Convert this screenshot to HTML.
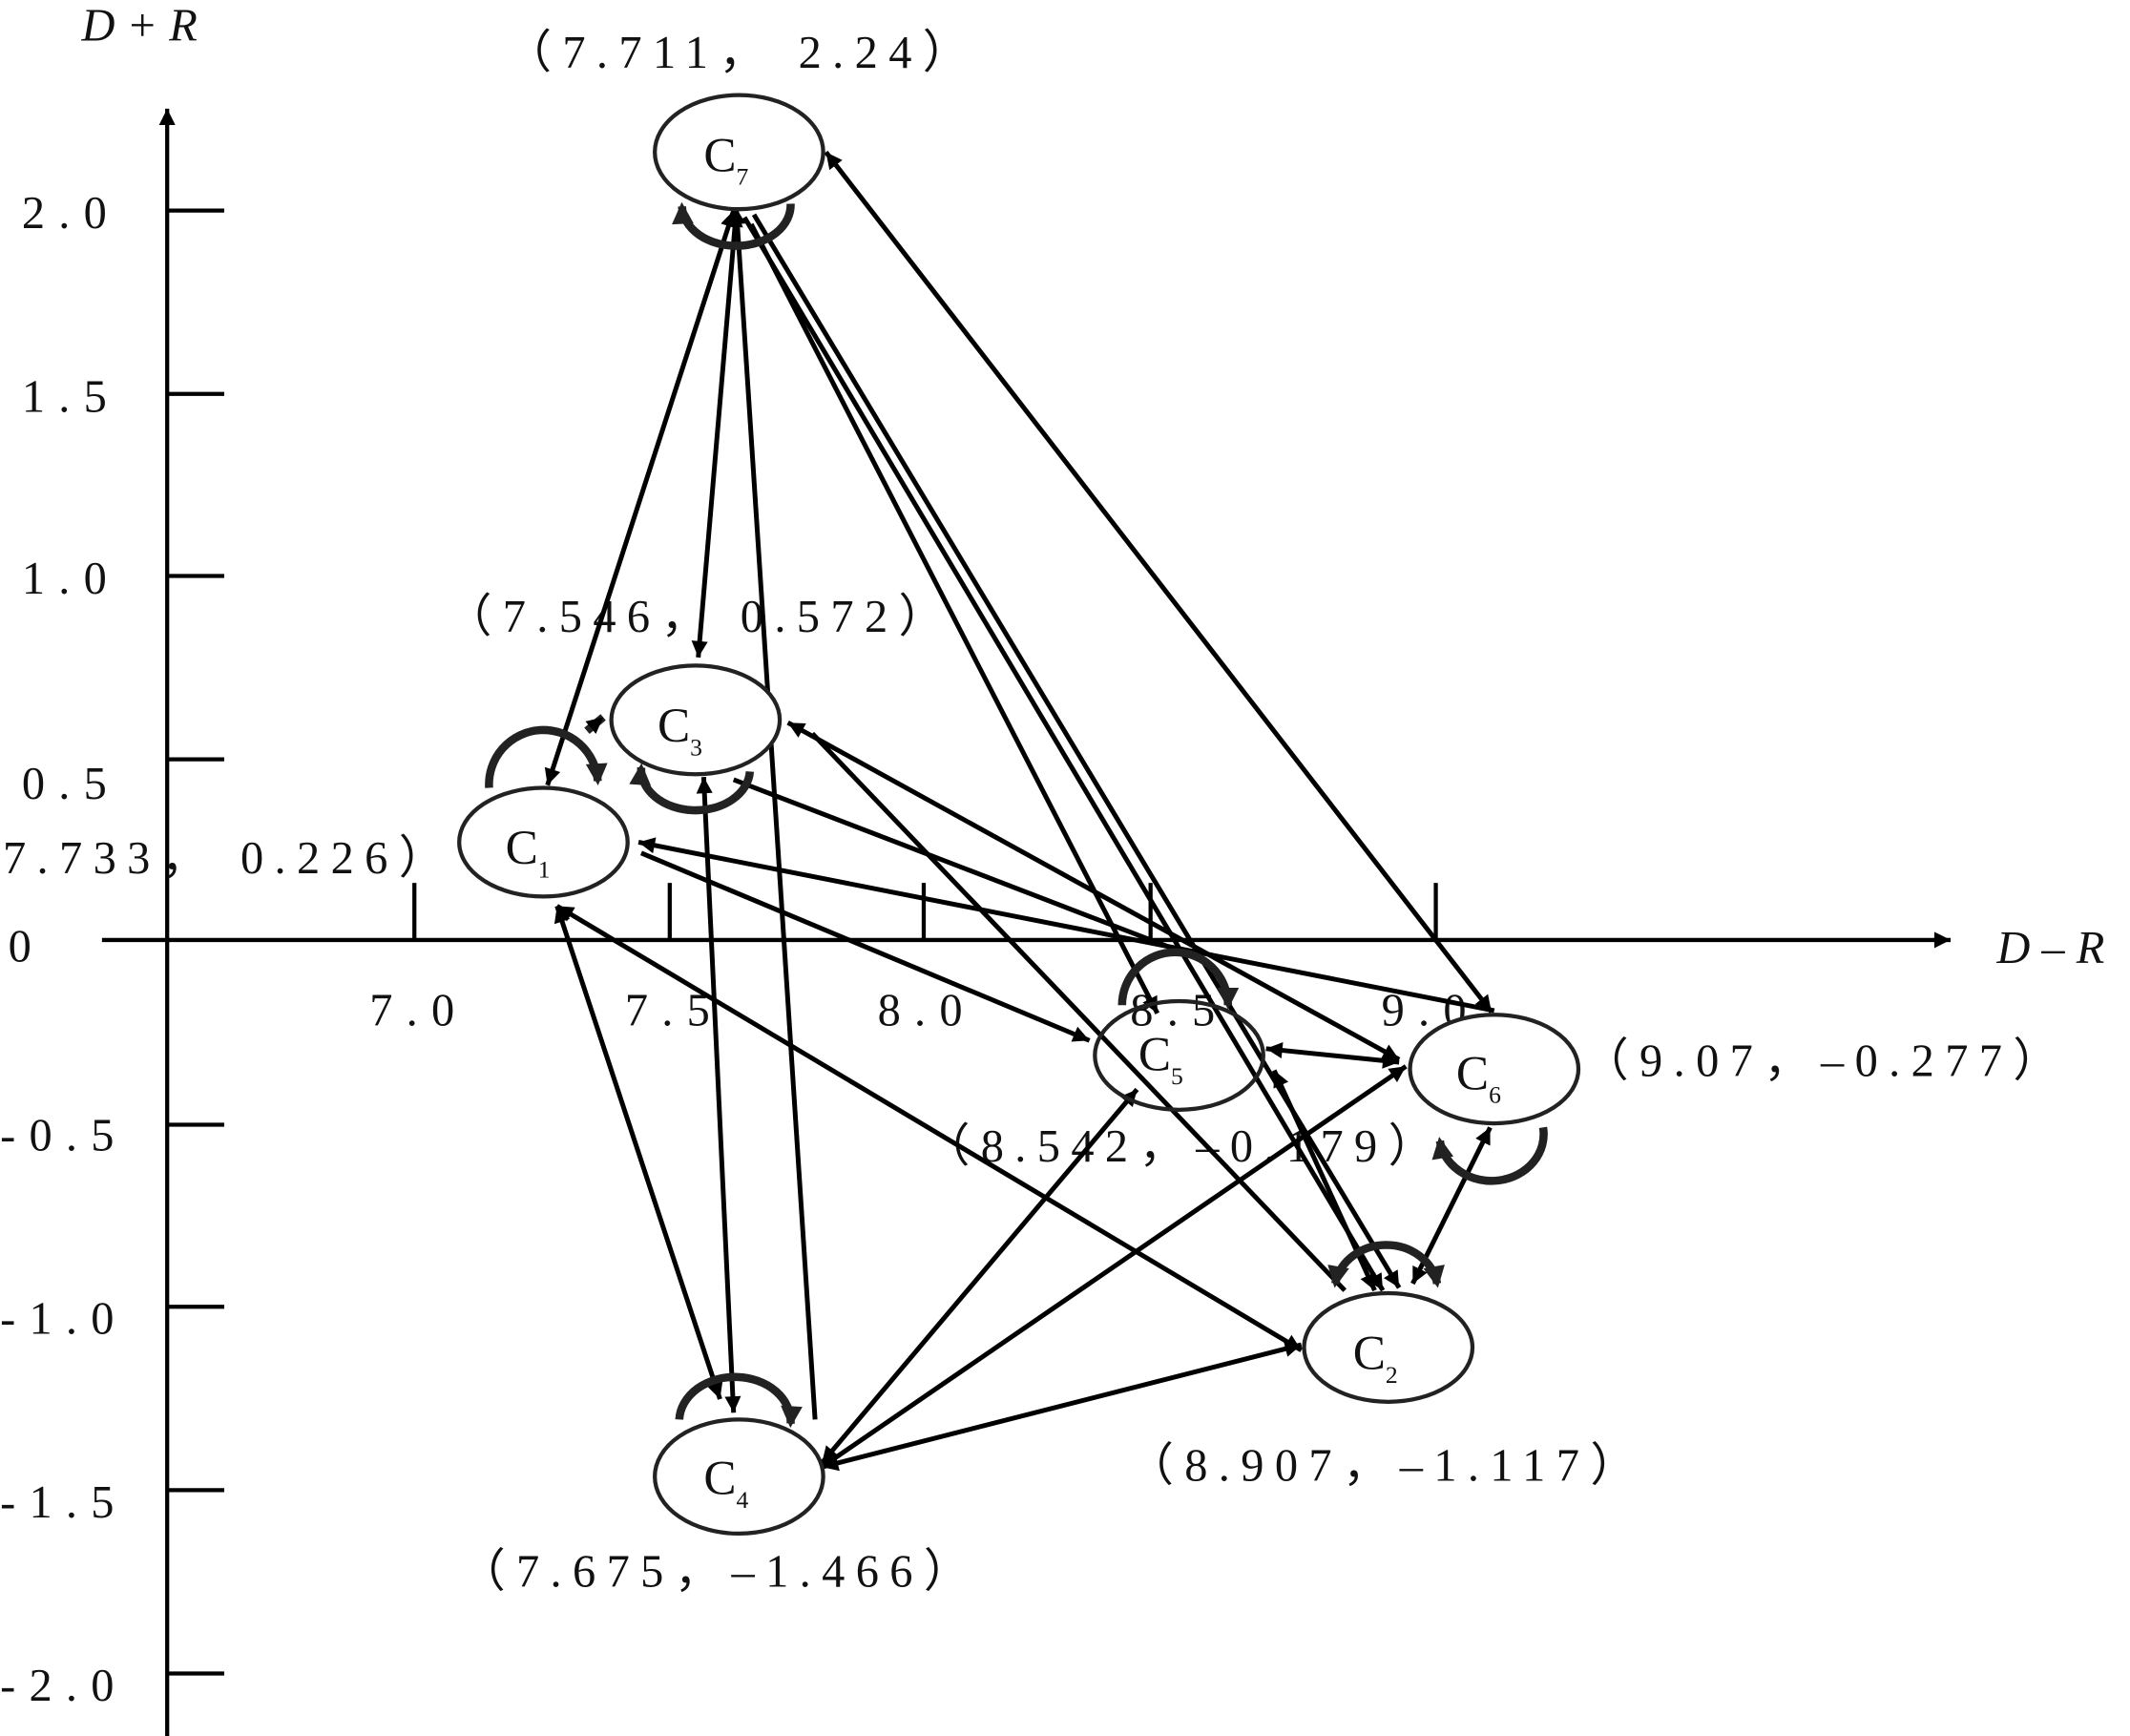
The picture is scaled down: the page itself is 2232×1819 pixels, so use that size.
<!DOCTYPE html>
<html><head><meta charset="utf-8"><style>
html,body{margin:0;padding:0;background:#fff;}
svg{display:block;}
text{font-family:"Liberation Serif",serif;fill:#111;}
</style></head><body>
<svg width="2232" height="1819" viewBox="0 0 1568 1278" xmlns="http://www.w3.org/2000/svg">
<defs>
<marker id="a" viewBox="0 0 10 10" refX="10" refY="5" markerWidth="14" markerHeight="12" markerUnits="userSpaceOnUse" orient="auto-start-reverse"><path d="M0,0L10,5L0,10z" fill="#000"/></marker>
<marker id="b" viewBox="0 0 10 10" refX="8" refY="5" markerWidth="18" markerHeight="16" markerUnits="userSpaceOnUse" orient="auto-start-reverse"><path d="M0,0L10,5L0,10z" fill="#222"/></marker>
</defs>
<g stroke="#000" stroke-width="3" fill="none">
<line x1="123" y1="1278" x2="123" y2="80" marker-end="url(#a)"/>
<line x1="75" y1="692" x2="1436" y2="692" marker-end="url(#a)"/>
<path d="M123 155H165M123 290H165M123 424H165M123 559H165M123 828H165M123 962H165M123 1097H165M123 1232H165"/>
<path d="M305 650V692M493 650V692M680 650V692M847 650V692M1057 650V692"/>
</g>
<g font-size="34" letter-spacing="10">
<text x="16" y="168">2.0</text><text x="16" y="303">1.5</text><text x="16" y="437">1.0</text><text x="16" y="588">0.5</text>
<text x="6" y="708">0</text>
<text x="0" y="847">-0.5</text><text x="0" y="982">-1.0</text><text x="0" y="1117">-1.5</text><text x="0" y="1252">-2.0</text>
<text x="272" y="755">7.0</text><text x="460" y="755">7.5</text><text x="646" y="755">8.0</text><text x="832" y="755">8.5</text><text x="1017" y="755">9.0</text>
</g>
<text x="60" y="30" font-size="34" font-style="italic">D + R</text>
<text x="1470" y="709" font-size="34" font-style="italic">D – R</text>
<g font-size="34" letter-spacing="8">
<text x="372" y="50">（7.711， 2.24）</text>
<text x="328" y="465">（7.546， 0.572）</text>
<text x="2" y="643">7.733， 0.226）</text>
<text x="1165" y="792">（9.07，–0.277）</text>
<text x="680" y="855">（8.542，–0.179）</text>
<text x="830" y="1090">（8.907，–1.117）</text>
<text x="338" y="1168">（7.675，–1.466）</text>
</g>
<g stroke="#000" stroke-width="3.5" fill="none">
<line x1="540" y1="155" x2="403" y2="578" marker-start="url(#a)" marker-end="url(#a)"/>
<line x1="542" y1="155" x2="514" y2="484" marker-start="url(#a)" marker-end="url(#a)"/>
<line x1="600" y1="1045" x2="542" y2="153" marker-end="url(#a)"/>
<line x1="518" y1="572" x2="540" y2="1040" marker-start="url(#a)" marker-end="url(#a)"/>
<line x1="548" y1="160" x2="1018" y2="950" marker-end="url(#a)"/>
<line x1="555" y1="158" x2="1030" y2="948" marker-end="url(#a)"/>
<line x1="553" y1="165" x2="852" y2="746" marker-end="url(#a)"/>
<line x1="1098" y1="745" x2="608" y2="112" marker-start="url(#a)" marker-end="url(#a)"/>
<line x1="470" y1="620" x2="1100" y2="744" marker-start="url(#a)"/>
<line x1="472" y1="628" x2="802" y2="766" marker-end="url(#a)"/>
<line x1="410" y1="667" x2="958" y2="994" marker-start="url(#a)" marker-end="url(#a)"/>
<line x1="410" y1="667" x2="530" y2="1030" marker-start="url(#a)" marker-end="url(#a)"/>
<line x1="580" y1="532" x2="1030" y2="780" marker-start="url(#a)" marker-end="url(#a)"/>
<line x1="598" y1="540" x2="990" y2="950" />
<line x1="540" y1="574" x2="868" y2="700"/>
<line x1="932" y1="772" x2="1030" y2="782" marker-start="url(#a)" marker-end="url(#a)"/>
<line x1="938" y1="788" x2="1012" y2="950" marker-start="url(#a)" marker-end="url(#a)"/>
<line x1="605" y1="1077" x2="837" y2="802" marker-start="url(#a)" marker-end="url(#a)"/>
<line x1="605" y1="1080" x2="1035" y2="785" marker-start="url(#a)" marker-end="url(#a)"/>
<line x1="605" y1="1080" x2="958" y2="990" marker-start="url(#a)" marker-end="url(#a)"/>
<line x1="1097" y1="830" x2="1040" y2="945" marker-start="url(#a)" marker-end="url(#a)"/>
</g>
<g stroke="#222" stroke-width="6" fill="none">
<path d="M502 152 A40 30 0 0 0 582 150" marker-start="url(#b)"/>
<path d="M360 580 A40 40 0 0 1 440 575" marker-end="url(#b)"/>
<path d="M472 565 A40 30 0 0 0 552 568" marker-start="url(#b)"/>
<path d="M500 1045 A40 32 0 0 1 582 1048" marker-end="url(#b)"/>
<path d="M826 740 A38 38 0 0 1 904 740" marker-end="url(#b)"/>
<path d="M1060 840 A38 34 0 0 0 1136 830" marker-start="url(#b)"/>
<path d="M983 945 A38 34 0 0 1 1058 945" marker-start="url(#b)" marker-end="url(#b)"/>
<path d="M432 538 l12 -10" marker-end="url(#a)"/>
</g>
<g stroke="#222" stroke-width="3" fill="#fff">
<ellipse cx="544" cy="112" rx="62" ry="42"/>
<ellipse cx="512" cy="530" rx="62" ry="40"/>
<ellipse cx="400" cy="620" rx="62" ry="40"/>
<ellipse cx="868" cy="777" rx="62" ry="40" fill="none"/>
<ellipse cx="1100" cy="787" rx="62" ry="40"/>
<ellipse cx="1022" cy="992" rx="62" ry="40"/>
<ellipse cx="544" cy="1087" rx="62" ry="42"/>
</g>
<g font-size="36">
<text x="518" y="126">C<tspan font-size="18" dy="10">7</tspan></text>
<text x="484" y="546">C<tspan font-size="18" dy="10">3</tspan></text>
<text x="372" y="636">C<tspan font-size="18" dy="10">1</tspan></text>
<text x="838" y="788">C<tspan font-size="18" dy="10">5</tspan></text>
<text x="1072" y="802">C<tspan font-size="18" dy="10">6</tspan></text>
<text x="996" y="1008">C<tspan font-size="18" dy="10">2</tspan></text>
<text x="518" y="1100">C<tspan font-size="18" dy="10">4</tspan></text>
</g>
</svg>
</body></html>
